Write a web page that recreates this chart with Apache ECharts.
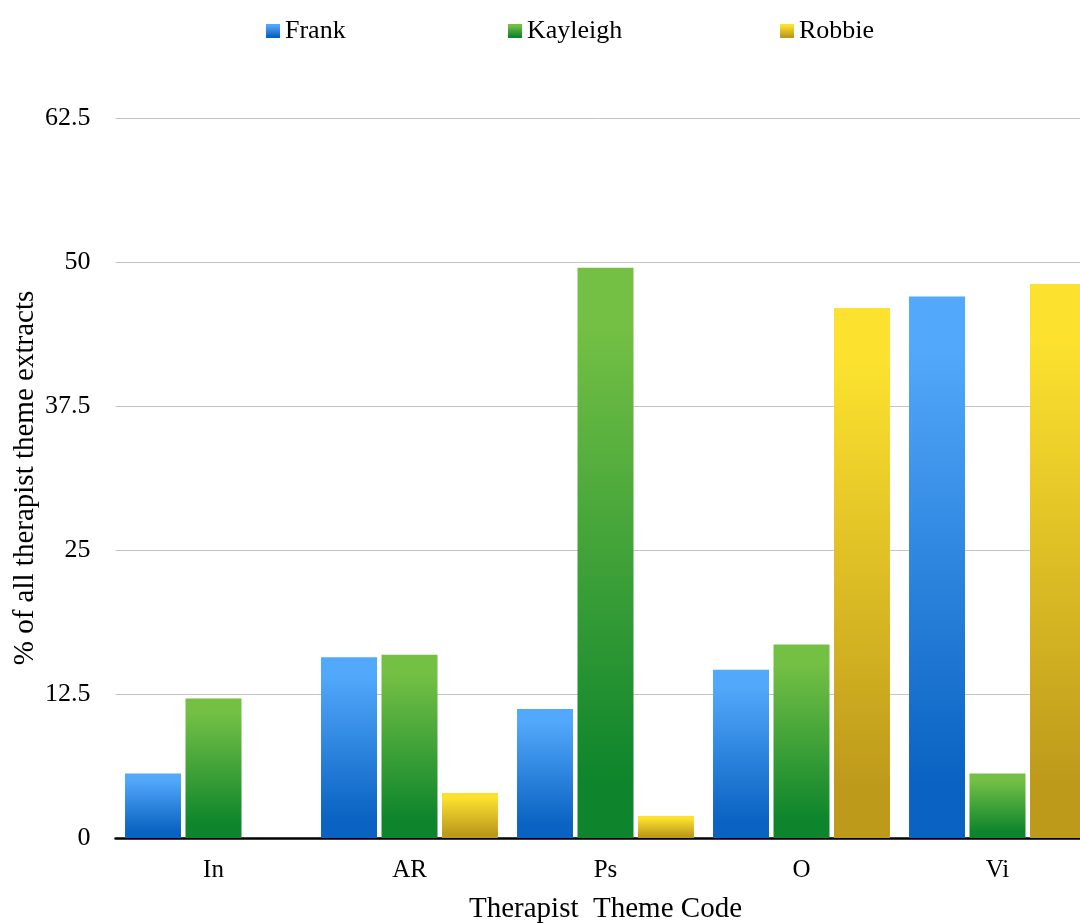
<!DOCTYPE html>
<html>
<head>
<meta charset="utf-8">
<title>Therapist Theme Code</title>
<script src="https://cdn.jsdelivr.net/npm/echarts@6/dist/echarts.min.js"></script>
<style>
  html, body { margin: 0; padding: 0; background: #ffffff; }
  #chart { width: 1080px; height: 923px; }
</style>
</head>
<body>
<div id="chart"></div>
<script>
// Theme codes along the x axis
const categories = ['In', 'AR', 'Ps', 'O', 'Vi'];

// Share of each therapist's theme extracts (%)
const frank    = [5.6, 15.7, 11.2, 14.6, 47.0];
const kayleigh = [12.1, 15.9, 49.5, 16.8, 5.6];
const robbie   = [0, 3.9, 1.9, 46.0, 48.1];

// Y axis ticks
const yTicks = [0, 12.5, 25, 37.5, 50, 62.5];

const FONT = 'Liberation Serif, Times New Roman, serif';

function vGrad(top, bottom) {
  return new echarts.graphic.LinearGradient(0, 0, 0, 1, [
    { offset: 0, color: top },
    { offset: 0.1, color: top },
    { offset: 0.9, color: bottom },
    { offset: 1, color: bottom }
  ]);
}

const palette = {
  Frank: vGrad('#52a8fa', '#0a62c2'),
  Kayleigh: vGrad('#74c045', '#0e852c'),
  Robbie: vGrad('#fce22f', '#be9a1b')
};

function legendFor(name, left) {
  return {
    data: [name],
    left: left,
    top: 13,
    itemWidth: 14,
    itemHeight: 14,
    icon: 'rect',
    itemGap: 0,
    textStyle: { fontFamily: FONT, fontSize: 26, color: '#000' }
  };
}

function barSeries(name, values) {
  return {
    name: name,
    type: 'bar',
    data: values,
    barWidth: 56,
    barGap: '8%',
    itemStyle: { color: palette[name] }
  };
}

const chart = echarts.init(document.getElementById('chart'), null, { renderer: 'canvas' });

chart.setOption({
  animation: false,
  backgroundColor: '#ffffff',
  legend: [
    legendFor('Frank', 261),
    legendFor('Kayleigh', 503),
    legendFor('Robbie', 775)
  ],
  // the plot runs slightly past the right edge, so the last bar is clipped
  grid: {
    left: 115.5, right: -15.5, top: 118, bottom: 85,
    containLabel: false,
    outerBoundsMode: 'none'
  },
  xAxis: {
    type: 'category',
    data: categories,
    name: 'Therapist  Theme Code',
    nameLocation: 'middle',
    nameGap: 57,
    nameTextStyle: { fontFamily: FONT, fontSize: 29, color: '#000' },
    axisLine: { lineStyle: { color: '#000', width: 2.5 } },
    axisTick: { show: false },
    axisLabel: { fontFamily: FONT, fontSize: 25, color: '#000', margin: 20 }
  },
  yAxis: {
    type: 'value',
    min: yTicks[0],
    max: yTicks[yTicks.length - 1],
    interval: yTicks[1] - yTicks[0],
    name: '% of all therapist theme extracts',
    nameLocation: 'middle',
    nameRotate: 90,
    nameGap: 76,
    nameMoveOverlap: false,
    nameTextStyle: { fontFamily: FONT, fontSize: 29, color: '#000' },
    axisLine: { show: false },
    axisTick: { show: false },
    axisLabel: { fontFamily: FONT, fontSize: 26, color: '#000', margin: 25 },
    splitLine: { lineStyle: { color: '#c4c4c4', width: 1 } }
  },
  series: [
    barSeries('Frank', frank),
    barSeries('Kayleigh', kayleigh),
    barSeries('Robbie', robbie)
  ]
});
</script>
</body>
</html>
